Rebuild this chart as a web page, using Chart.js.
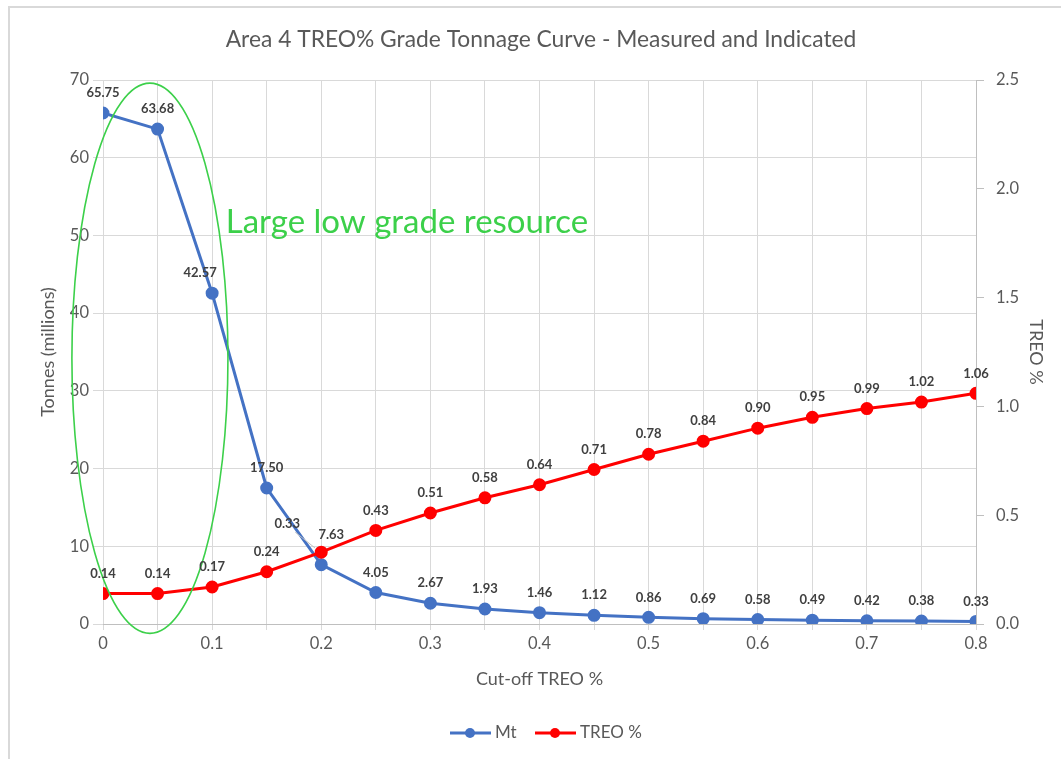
<!DOCTYPE html>
<html>
<head>
<meta charset="utf-8">
<script src="https://cdn.jsdelivr.net/npm/chart.js@4"></script>
<style>
  html, body { margin: 0; padding: 0; background: #fff; }
  #wrap { position: relative; width: 1061px; height: 759px; }
  #frame { position: absolute; left: 8px; top: 6px; right: -10px; bottom: -10px; border: 2px solid #d9d9d9; }
</style>
</head>
<body>
<div id="wrap">
  <div id="frame"></div>
  <canvas id="gradeChart" width="1061" height="759"></canvas>
</div>
<script>
// Grade tonnage data
const cutoffs = [0, 0.05, 0.1, 0.15, 0.2, 0.25, 0.3, 0.35, 0.4, 0.45, 0.5, 0.55, 0.6, 0.65, 0.7, 0.75, 0.8];
const tonnesMt = [65.75, 63.68, 42.57, 17.5, 7.63, 4.05, 2.67, 1.93, 1.46, 1.12, 0.86, 0.69, 0.58, 0.49, 0.42, 0.38, 0.33];
const treoPct = [0.14, 0.14, 0.17, 0.24, 0.33, 0.43, 0.51, 0.58, 0.64, 0.71, 0.78, 0.84, 0.90, 0.95, 0.99, 1.02, 1.06];

const seriesNames = ["Mt", "TREO %"];
const chartTitle = "Area 4 TREO% Grade Tonnage Curve - Measured and Indicated";
const noteText = "Large low grade resource";

const BLUE = "#4472C4";
const RED = "#FF0000";
const GREEN = "#3CD04A";
const FONT = "Lato, 'Open Sans', sans-serif";

// label nudges where Excel moved a label off its point
const labelNudge = {
  "0-2": [-12, 0],
  "0-4": [10, -10],
  "1-4": [-34, -8],
};

// draws the value labels, title, ellipse note and legend
const decorPlugin = {
  id: "decor",
  afterDatasetsDraw(chart) {
    const ctx = chart.ctx;
    const xs = chart.scales.x, ys = chart.scales.y;

    // green ellipse around the first points
    const cx = xs.getPixelForValue(0.043);
    const rx = xs.getPixelForValue(0.043 + 0.0715) - cx;
    const cy = ys.getPixelForValue(34.2);
    const ry = cy - ys.getPixelForValue(34.2 + 35.4);
    ctx.save();
    ctx.strokeStyle = GREEN;
    ctx.lineWidth = 1.6;
    ctx.beginPath();
    ctx.ellipse(cx, cy, rx, ry, 0, 0, Math.PI * 2);
    ctx.stroke();

    ctx.fillStyle = GREEN;
    ctx.font = "33px " + FONT;
    ctx.textAlign = "left";
    ctx.textBaseline = "middle";
    ctx.fillText(noteText, xs.getPixelForValue(0.1125), ys.getPixelForValue(51.7));

    // value labels
    ctx.font = "bold 13px " + FONT;
    ctx.fillStyle = "#404040";
    ctx.textAlign = "center";
    chart.data.datasets.forEach((ds, di) => {
      const meta = chart.getDatasetMeta(di);
      meta.data.forEach((pt, i) => {
        const nudge = labelNudge[di + "-" + i] || [0, 0];
        const lx = pt.x + nudge[0];
        const ly = pt.y - 20 + nudge[1];
        if (di === 1 && i === 4) {
          ctx.strokeStyle = "#bfbfbf";
          ctx.lineWidth = 1;
          ctx.beginPath();
          ctx.moveTo(lx + 8, ly + 8);
          ctx.lineTo(pt.x - 6, pt.y - 4);
          ctx.stroke();
        }
        ctx.fillText(ds.data[i].y.toFixed(2), lx, ly);
      });
    });

    // title
    ctx.fillStyle = "#595959";
    ctx.font = "22.8px " + FONT;
    ctx.fillText(chartTitle, 541, 40);

    // legend
    const items = [[seriesNames[0], BLUE, 450], [seriesNames[1], RED, 535]];
    ctx.font = "17px " + FONT;
    ctx.textAlign = "left";
    items.forEach(([name, col, x]) => {
      ctx.strokeStyle = col;
      ctx.lineWidth = 3;
      ctx.beginPath();
      ctx.moveTo(x, 733);
      ctx.lineTo(x + 41, 733);
      ctx.stroke();
      ctx.fillStyle = col;
      ctx.beginPath();
      ctx.arc(x + 20, 733, 5, 0, Math.PI * 2);
      ctx.fill();
      ctx.fillStyle = "#595959";
      ctx.fillText(name, x + 45, 733);
    });
    ctx.restore();
  },
};

const ctx = document.getElementById("gradeChart").getContext("2d");
new Chart(ctx, {
  type: "line",
  data: {
    datasets: [
      {
        label: seriesNames[0],
        data: cutoffs.map((c, i) => ({ x: c, y: tonnesMt[i] })),
        borderColor: BLUE,
        backgroundColor: BLUE,
        borderWidth: 3,
        pointRadius: 5,
        yAxisID: "y",
        order: 2,
      },
      {
        label: seriesNames[1],
        data: cutoffs.map((c, i) => ({ x: c, y: treoPct[i] })),
        borderColor: RED,
        backgroundColor: RED,
        borderWidth: 3,
        pointRadius: 5,
        yAxisID: "y1",
        order: 1,
      },
    ],
  },
  options: {
    responsive: false,
    animation: false,
    layout: { padding: { top: 80, bottom: 65, left: 0, right: 0 } },
    plugins: {
      legend: { display: false },
      title: { display: false },
      tooltip: { enabled: false },
    },
    scales: {
      x: {
        type: "linear",
        min: 0,
        max: 0.8,
        afterFit: (s) => { s.height = 70; },
        afterBuildTicks: (s) => {
          s.ticks = cutoffs.map((v) => ({ value: v }));
        },
        ticks: {
          autoSkip: false,
          maxRotation: 0,
          color: "#595959",
          font: { size: 16.5, family: FONT },
          padding: 4,
          callback: (v) => (Math.round(v * 100) % 10 === 0 ? String(Math.round(v * 10) / 10) : ""),
        },
        grid: { color: "#d9d9d9", tickLength: 6 },
        border: { color: "#bfbfbf" },
        title: {
          display: true,
          text: "Cut-off TREO %",
          color: "#595959",
          font: { size: 18, family: FONT },
          padding: { top: 10, bottom: 4 },
        },
      },
      y: {
        position: "left",
        min: 0,
        max: 70,
        afterFit: (s) => { s.width = 103; },
        ticks: {
          stepSize: 10,
          color: "#595959",
          font: { size: 16.5, family: FONT },
          padding: 4,
        },
        grid: { color: "#d9d9d9", tickLength: 10 },
        border: { display: false },
        title: {
          display: true,
          text: "Tonnes (millions)",
          color: "#595959",
          font: { size: 18, family: FONT },
          padding: { top: 37, bottom: 0 },
        },
      },
      y1: {
        position: "right",
        min: 0,
        max: 2.5,
        afterFit: (s) => { s.width = 85; },
        ticks: {
          stepSize: 0.5,
          color: "#595959",
          font: { size: 16.5, family: FONT },
          padding: 12,
          callback: (v) => v.toFixed(1),
        },
        grid: { drawOnChartArea: false, color: "#bfbfbf", tickLength: 8 },
        border: { color: "#bfbfbf" },
        title: {
          display: true,
          text: "TREO %",
          color: "#595959",
          font: { size: 18, family: FONT },
          padding: { top: 14, bottom: 0 },
        },
      },
    },
  },
  plugins: [decorPlugin],
});
</script>
</body>
</html>
